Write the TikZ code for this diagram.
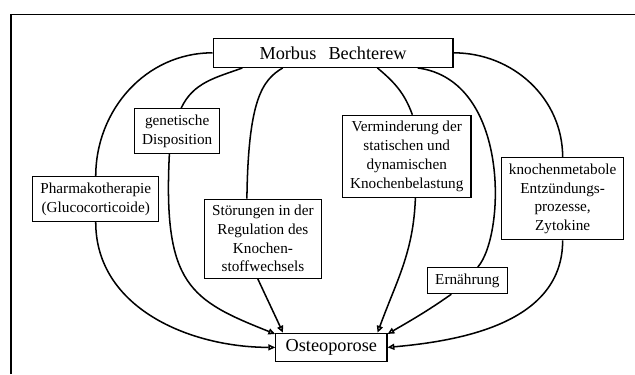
\documentclass[tikz,border=0pt]{standalone}
\usepackage{fontspec}
\setmainfont{Liberation Serif}
\usetikzlibrary{arrows.meta}
\begin{document}
\begin{tikzpicture}[scale = 1.0,
		box/.style = {draw, line width=0.7pt, align=center, font=\fontsize{10}{12.3}\selectfont, inner xsep=5pt, inner ysep=4pt},
		bigbox/.style = {draw, line width=0.8pt, font=\fontsize{12}{14}\selectfont, inner xsep=6.5pt, inner ysep=4pt},
		link/.style = {line width=1pt},
		pfeil/.style = {line width=1pt, -{Triangle[open, length=4.5pt, width=4pt]}}]
		\useasboundingbox (0,0) rectangle (14.66,8.64);
		\draw[line width=1pt] (0.25,0) -- (0.25,8.31) -- (14.66,8.31);

		\node[bigbox, minimum width=5.54cm, minimum height=0.67cm] (mb) at (7.69,7.42) {Morbus\hspace{8pt}Bechterew};
		\node[bigbox] (op) at (7.65,0.62) {Osteoporose};

		\node[box] (pharma) at (2.21,4.04) {Pharmakotherapie\\(Glucocorticoide)};
		\node[box] (gen) at (4.09,5.61) {genetische\\Disposition};
		\node[box] (stoer) at (6.07,3.13) {Störungen in der\\Regulation des\\Knochen-\\stoffwechsels};
		\node[box] (verm) at (9.39,5.03) {Verminderung der\\statischen und\\dynamischen\\Knochenbelastung};
		\node[box] (ern) at (10.79,2.16) {Ernährung};
		\node[box] (knoch) at (12.99,4.05) {knochenmetabole\\Entzündungs-\\prozesse,\\Zytokine};

		% Morbus Bechterew -> Einflussfaktoren
		\draw[link] (mb.west) to[out=180, in=90] (pharma.north);
		\draw[link] ([xshift=0.69cm]mb.south west) to[out=200, in=65] ([xshift=0.09cm]gen.north);
		\draw[link] ([xshift=1.62cm]mb.south west) .. controls (6.05,6.79) and (5.73,6.33) .. ([xshift=-0.37cm]stoer.north);
		\draw[link] ([xshift=-1.76cm]mb.south east) to[out=-40, in=110] ([xshift=0.13cm]verm.north);
		\draw[link] ([xshift=-0.83cm]mb.south east) .. controls (11.78,6.79) and (11.67,3.21) .. ([xshift=0.24cm]ern.north);
		\draw[link] (mb.east) to[out=0, in=90] (knoch.north);

		% Einflussfaktoren -> Osteoporose
		\draw[pfeil] (pharma.south) to[out=-90, in=180] (op.west);
		\draw[pfeil] ([xshift=-0.18cm]gen.south) .. controls (3.76,2.06) and (4.39,1.71) .. ([yshift=-0.03cm]op.north west);
		\draw[pfeil] ([xshift=-0.12cm]stoer.south) to[out=-65, in=115] ([xshift=0.18cm]op.north west);
		\draw[pfeil] ([xshift=0.2cm]verm.south) to[out=-92, in=70] ([xshift=-0.23cm]op.north east);
		\draw[pfeil] ([xshift=-0.37cm]ern.south) to[out=-145, in=30] ([yshift=-0.03cm]op.north east);
		\draw[pfeil] (knoch.south) to[out=-90, in=5] (op.east);
\end{tikzpicture}
\end{document}
